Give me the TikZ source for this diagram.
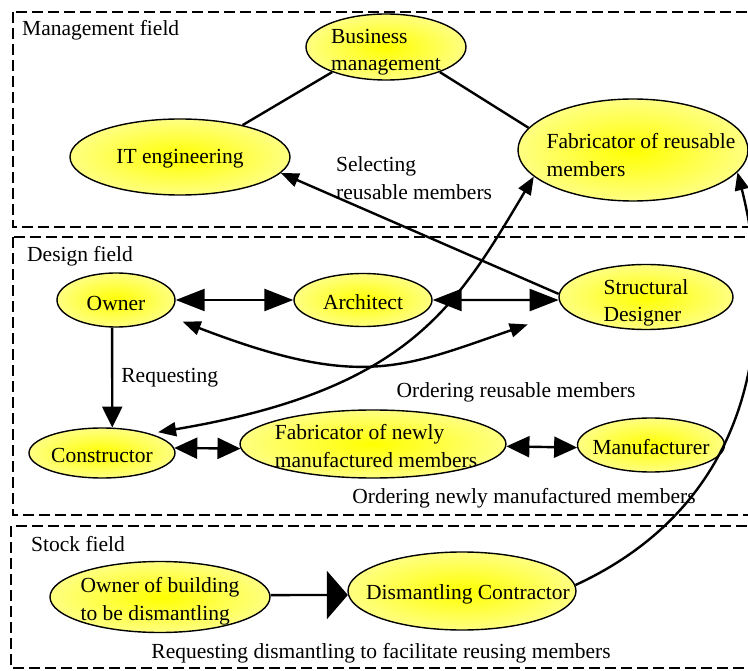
\documentclass[tikz,border=0pt]{standalone}
\usepackage{fontspec}
\setmainfont{Liberation Serif}
\usetikzlibrary{shapes.geometric,arrows.meta,positioning}
\definecolor{nodeyellow}{RGB}{255,255,0}
\definecolor{paleyellow}{RGB}{255,255,130}

\begin{document}
\begin{tikzpicture}[x=1pt,y=-1pt,
    font=\fontsize{21.5}{27.5}\selectfont,
    actor/.style={ellipse,draw=black,line width=1.4pt,
                  inner color=nodeyellow,outer color=paleyellow,inner sep=0pt},
    field/.style={draw,line width=2.6pt,dash pattern=on 11pt off 5pt},
    lbl/.style={inner sep=0pt,align=left},
    link/.style={line width=2.4pt},
    small/.style={link,-{Triangle[length=18pt,width=14pt]}},
    smalldbl/.style={link,{Triangle[length=18pt,width=14pt]}-{Triangle[length=18pt,width=14pt]}},
    bigdbl/.style={link,{Triangle[length=29pt,width=22pt]}-{Triangle[length=29pt,width=22pt]}},
    middbl/.style={link,{Triangle[length=23pt,width=21pt]}-{Triangle[length=23pt,width=21pt]}},
    single/.style={link,-{Triangle[length=21pt,width=20pt]}},
    wide/.style={link,-{Triangle[length=21pt,width=48pt]}}]
  \useasboundingbox (0,0) rectangle (748,671);
  % fields
  \draw[field] (13,12) rectangle (765,227);
  \draw[field] (13,237) rectangle (765,515);
  \draw[field] (11,526) rectangle (765,668);
  \node[lbl,anchor=west] (mgt) at (22,30) {Management field};
  \node[lbl,anchor=west] (dsg) at (27,256) {Design field};
  \node[lbl,anchor=west] (stk) at (31,544) {Stock field};
  % management field
  \node[actor,minimum width=160pt,minimum height=66pt] (bm) at (386,47) {};
  \node[actor,minimum width=220pt,minimum height=76pt] (it) at (180,157) {};
  \node[actor,minimum width=230pt,minimum height=102pt] (fr) at (633,150) {};
  % design field
  \node[actor,minimum width=118pt,minimum height=54pt] (own) at (116,300) {};
  \node[actor,minimum width=138pt,minimum height=53pt] (arc) at (363,300) {};
  \node[actor,minimum width=174pt,minimum height=65pt] (sd) at (646,297) {};
  \node[actor,minimum width=146pt,minimum height=50pt] (con) at (102,453) {};
  \node[actor,minimum width=266pt,minimum height=68pt] (fn) at (373,444) {};
  \node[actor,minimum width=147pt,minimum height=54pt] (man) at (651,445) {};
  % stock field
  \node[actor,minimum width=220pt,minimum height=71pt] (ob) at (160,597) {};
  \node[actor,minimum width=228pt,minimum height=78pt] (dc) at (462,591) {};
  % node texts
  \node[lbl] (bmt) at ([yshift=-5pt]bm.center) {Business\\management};
  \node[lbl] (itt) at ([yshift=-2pt]it.center) {IT engineering};
  \node[lbl] (frt) at ([xshift=8pt,yshift=-5pt]fr.center) {Fabricator of reusable\\members};
  \node[lbl] (ownt) at ([yshift=-3pt]own.center) {Owner};
  \node[lbl] (arct) at ([yshift=-2pt]arc.center) {Architect};
  \node[lbl] (sdt) at ([yshift=-6pt]sd.center) {Structural\\Designer};
  \node[lbl] (cont) at ([yshift=-2pt]con.center) {Constructor};
  \node[lbl] (fnt) at ([xshift=3pt,yshift=-2pt]fn.center) {Fabricator of newly\\manufactured members};
  \node[lbl] (mant) at ([yshift=-2pt]man.center) {Manufacturer};
  \node[lbl] (obt) at ([yshift=-4pt]ob.center) {Owner of building\\to be dismantling};
  \node[lbl] (dct) at ([xshift=6pt,yshift=-3pt]dc.center) {Dismantling Contractor};
  % links
  \draw[link] (bm.-155) -- (it.27);
  \draw[link] (bm.-25) -- (fr.168);
  \draw[small] (sd.178) -- (it.-9);
  \draw[bigdbl] (own) -- (arc);
  \draw[bigdbl] (arc.east) -- (sd.-178);
  \draw[single] (own.-98) -- node[lbl,midway,right=8pt] (req) {Requesting} (con.68);
  \draw[middbl] (con.4) -- (fn.-178);
  \draw[middbl] (fn.-1) -- (man.-178);
  \draw[wide] (ob.1) -- (dc.-178);
  \draw[smalldbl,shorten <=8pt] (con.22) .. controls (409,390) and (456,307) .. (fr.-165);
  \draw[smalldbl,shorten <=18pt,shorten >=41pt] (own.-17) .. controls (360,390) and (402,368) .. (sd.-170);
  \draw[small] (dc.3) .. controls (760,500) and (775,320) .. (fr.-12);
  % link labels
  \node[lbl,anchor=west] (sel) at (336,178) {Selecting\\reusable members};
  \node[lbl] (ordr) at (516,392) {Ordering reusable members};
  \node[lbl] (ordn) at (524,498) {Ordering newly manufactured members};
  \node[lbl] (reqd) at (381,653) {Requesting dismantling to facilitate reusing members};
\end{tikzpicture}
\end{document}
